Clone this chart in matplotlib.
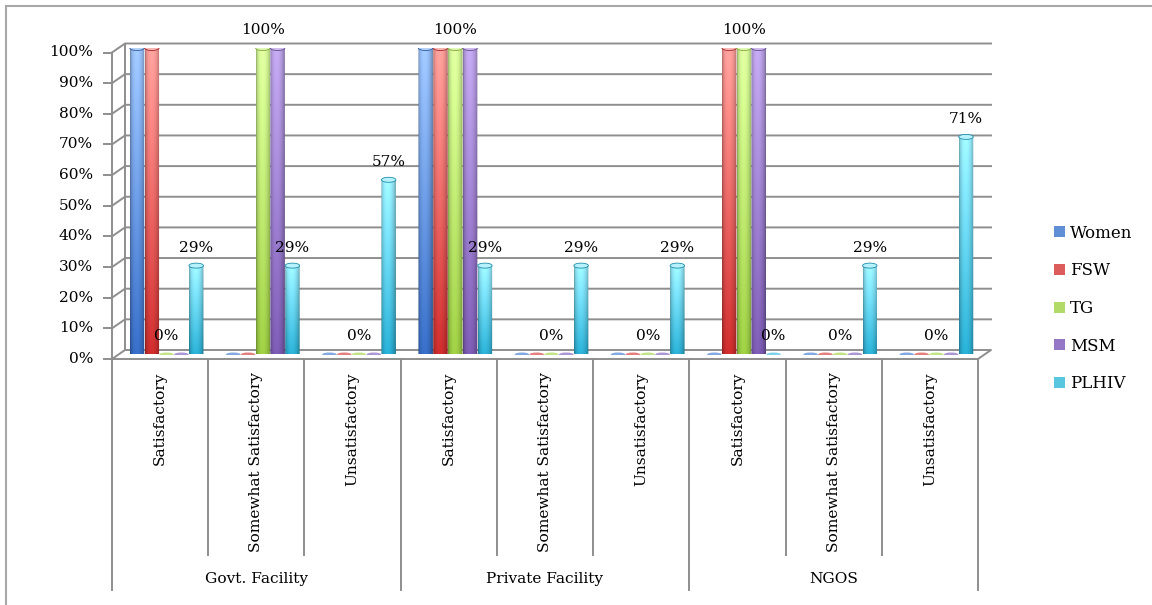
import numpy as np
import matplotlib
matplotlib.use("Agg")
import matplotlib.pyplot as plt
from matplotlib.colors import to_rgb
from matplotlib.patches import Ellipse, PathPatch, Patch
from matplotlib.path import Path
from matplotlib.lines import Line2D

plt.rcParams["font.family"] = "DejaVu Serif"
plt.rcParams["font.size"] = 11.1

groups = ["Govt. Facility", "Private Facility", "NGOS"]
ratings = ["Satisfactory", "Somewhat Satisfactory", "Unsatisfactory"]
series = ["Women", "FSW", "TG", "MSM", "PLHIV"]

# percent of respondents, one value per (facility, rating) column
women = [100, 0, 0, 100, 0, 0, 0, 0, 0]
fsw = [100, 0, 0, 100, 0, 0, 100, 0, 0]
tg = [0, 100, 0, 100, 0, 0, 100, 0, 0]
msm = [0, 100, 0, 100, 0, 0, 100, 0, 0]
plhiv = [29, 29, 57, 29, 29, 29, 0, 29, 71]
values = [women, fsw, tg, msm, plhiv]
labelled = ["TG", "PLHIV"]
yticks = list(range(0, 101, 10))

top_colors = ["#98bef4", "#f79a96", "#d4f598", "#b9a0e4", "#98ecfb"]
bottom_colors = ["#3468bd", "#c42a2a", "#96c440", "#7657ab", "#25a6ca"]

W, H = 1152, 605
fig = plt.figure(figsize=(W / 100, H / 100), dpi=100)
# axes = middle depth plane of the fake 3d box
ax = fig.add_axes([118.5 / W, 250.5 / H, 866 / W, 306.5 / H])
ncols = len(women)
ax.set_xlim(0, ncols)
ax.set_ylim(0, 100)
ax.axis("off")

ux = 866 / ncols          # px per category
uy = 306.5 / 100          # px per percent
DX = 6.5 / ux             # half depth, x
DY = 4.5 / uy             # half depth, y
grid = "#8e8e8e"
glw = 1.4

# back wall gridlines with the left side wall diagonals
for t in yticks[1:]:
    ax.plot([-DX, DX, ncols + DX], [t - DY, t + DY, t + DY],
            color=grid, lw=glw, zorder=1, clip_on=False)
# floor
ax.plot([-DX, ncols - DX, ncols + DX, DX, -DX],
        [-DY, -DY, DY, DY, -DY], color=grid, lw=glw, zorder=1, clip_on=False)
# left edges of side wall
ax.plot([-DX, -DX], [-DY, 100 - DY], color=grid, lw=glw, zorder=1, clip_on=False)
ax.plot([DX, DX], [DY, 100 + DY], color=grid, lw=glw, zorder=1, clip_on=False)

# value axis ticks and labels on the front edge
tick_len = 8 / ux
for t in yticks:
    ax.plot([-DX - tick_len, -DX], [t - DY, t - DY], color=grid, lw=glw,
            clip_on=False)
    ax.text(-DX - 19 / ux, t - DY, f"{t}%", ha="right", va="center")

# category axis: dividers and labels
y_inner = -(555 - 354.5) / uy
y_outer = -(590 - 354.5) / uy
for k in range(ncols + 1):
    yb = y_outer if k % 3 == 0 else y_inner
    ax.plot([k - DX, k - DX], [-DY, yb], color=grid, lw=glw, clip_on=False)
for k in range(ncols):
    ax.text(k + 0.5 - DX, -(372 - 354.5) / uy, ratings[k % 3],
            rotation=90, ha="center", va="top")
for g, name in enumerate(groups):
    ax.text(3 * g + 1.5 - DX, -(579 - 354.5) / uy, name,
            ha="center", va="center")


def shade_image(c_top, c_bot, n=80, m=40):
    t = np.linspace(0, 1, n)[:, None, None]
    u = np.linspace(0, 1, m)[None, :, None]
    base = (1 - t) * np.array(to_rgb(c_top)) + t * np.array(to_rgb(c_bot))
    side = 0.66 + 0.42 * np.sin(np.pi * u ** 0.85) ** 0.6
    return np.clip(base * side, 0, 1)


bw = 14.5 / ux            # cylinder width
step = 14.8 / ux          # spacing between series
cap = 5 / uy              # ellipse height

for j, vals in enumerate(values):
    c_top, c_bot = top_colors[j], bottom_colors[j]
    mid = 0.5 * (np.array(to_rgb(c_top)) + np.array(to_rgb(c_bot)))
    for k, v in enumerate(vals):
        xc = k + 0.5 + (j - 2) * step
        x0, x1 = xc - bw / 2, xc + bw / 2
        if v == 0:
            ax.add_patch(Ellipse((xc, 0), bw, cap * 0.8, fc=mid, ec="none",
                                 alpha=0.8, zorder=3))
        else:
            ang = np.linspace(np.pi, 2 * np.pi, 30)
            verts = [(x0, v), (x0, 0)]
            verts += list(zip(xc + bw / 2 * np.cos(ang), cap / 2 * np.sin(ang)))
            verts += [(x1, v), (x0, v)]
            body = PathPatch(Path(verts, closed=True), fc="none", ec="none")
            ax.add_patch(body)
            im = ax.imshow(shade_image(c_top, c_bot), extent=(x0, x1, -cap / 2, v),
                           origin="upper", aspect="auto", interpolation="bilinear",
                           zorder=3)
            im.set_clip_path(body)
            top = 0.7 * np.array(to_rgb(c_top)) + 0.3
            ax.add_patch(Ellipse((xc, v), bw, cap, fc=np.clip(top, 0, 1),
                                 ec=np.array(to_rgb(c_bot)) * 0.85, lw=0.6,
                                 zorder=4))
        if series[j] in labelled:
            ax.annotate(f"{v}%", (xc, v), xytext=(0, 13),
                        textcoords="offset points", ha="center", va="center",
                        zorder=6)

ax.set_aspect("auto")
ax.set_xlim(0, ncols)
ax.set_ylim(0, 100)

handles = [Patch(facecolor=0.45 * np.array(to_rgb(a)) + 0.55 * np.array(to_rgb(b)))
           for a, b in zip(top_colors, bottom_colors)]
fig.legend(handles, series, loc="center left",
           bbox_to_anchor=(1054 / W, 1 - 308.5 / H), frameon=False,
           fontsize=12, handlelength=0.65, handleheight=0.65,
           handletextpad=0.3, labelspacing=1.24, borderpad=0, borderaxespad=0)

# chart area frame
fig.add_artist(Line2D([6 / W, 6 / W], [-0.01, 1 - 6 / H], color="#a8a8a8",
                      lw=1.5, transform=fig.transFigure))
fig.add_artist(Line2D([6 / W, 1.01], [1 - 6 / H, 1 - 6 / H], color="#a8a8a8",
                      lw=1.5, transform=fig.transFigure))

fig.savefig("out.png", dpi=100)
